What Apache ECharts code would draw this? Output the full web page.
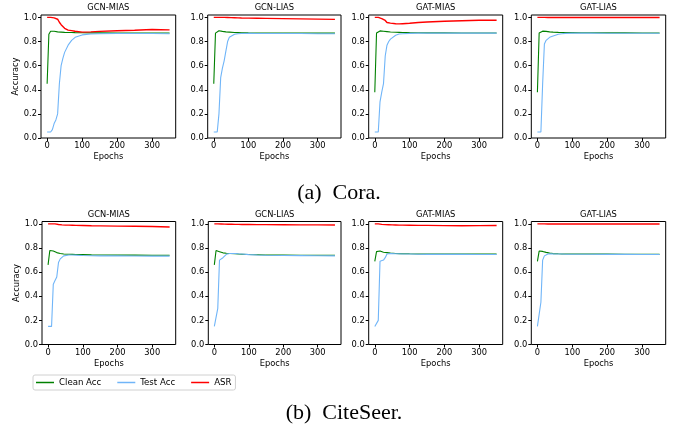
<!DOCTYPE html>
<html>
<head>
<meta charset="utf-8">
<script src="https://cdn.jsdelivr.net/npm/echarts@6/dist/echarts.min.js"></script>
<style>
  html, body { margin: 0; padding: 0; background: #fff; }
  #chart { width: 681px; height: 434px; }
</style>
</head>
<body>
<div id="chart"></div>
<script>
// epochs sampled from the curves
var epochs = [0, 5, 10, 15, 20, 25, 30, 35, 40, 45, 50, 60, 70, 80, 100, 125, 150, 200, 250, 300, 350];

// (a) Cora
var coraGcnMiasClean = [0.45, 0.86, 0.885, 0.89, 0.885, 0.882, 0.88, 0.878, 0.878, 0.877, 0.876, 0.875, 0.875, 0.874, 0.873, 0.872, 0.872, 0.871, 0.871, 0.871, 0.871];
var coraGcnMiasTest  = [0.05, 0.05, 0.05, 0.07, 0.12, 0.15, 0.2, 0.45, 0.6, 0.66, 0.71, 0.77, 0.81, 0.835, 0.855, 0.862, 0.864, 0.866, 0.866, 0.866, 0.865];
var coraGcnMiasAsr   = [1.0, 1.0, 1.0, 0.998, 0.996, 0.994, 0.985, 0.96, 0.94, 0.925, 0.91, 0.895, 0.89, 0.885, 0.878, 0.88, 0.884, 0.89, 0.893, 0.9, 0.897];

var coraGcnLiasClean = [0.45, 0.87, 0.885, 0.89, 0.887, 0.884, 0.882, 0.88, 0.879, 0.878, 0.877, 0.875, 0.874, 0.873, 0.872, 0.871, 0.871, 0.87, 0.87, 0.87, 0.87];
var coraGcnLiasTest  = [0.05, 0.05, 0.05, 0.2, 0.5, 0.58, 0.64, 0.72, 0.8, 0.835, 0.85, 0.86, 0.865, 0.867, 0.868, 0.867, 0.866, 0.866, 0.866, 0.865, 0.864];
var coraGcnLiasAsr   = [1.0, 1.0, 1.0, 1.0, 1.0, 1.0, 1.0, 1.0, 0.999, 0.999, 0.998, 0.997, 0.996, 0.995, 0.994, 0.993, 0.992, 0.99, 0.988, 0.986, 0.984];

var coraGatMiasClean = [0.38, 0.87, 0.885, 0.888, 0.886, 0.885, 0.884, 0.882, 0.88, 0.879, 0.878, 0.877, 0.876, 0.875, 0.874, 0.873, 0.872, 0.872, 0.871, 0.871, 0.871];
var coraGatMiasTest  = [0.05, 0.05, 0.05, 0.3, 0.38, 0.45, 0.68, 0.77, 0.8, 0.82, 0.835, 0.852, 0.862, 0.865, 0.868, 0.87, 0.87, 0.87, 0.87, 0.87, 0.87];
var coraGatMiasAsr   = [1.0, 1.0, 1.0, 0.995, 0.99, 0.988, 0.975, 0.958, 0.955, 0.953, 0.952, 0.948, 0.946, 0.948, 0.952, 0.958, 0.962, 0.968, 0.972, 0.976, 0.977];

var coraGatLiasClean = [0.38, 0.87, 0.882, 0.886, 0.885, 0.884, 0.882, 0.88, 0.879, 0.878, 0.877, 0.876, 0.875, 0.875, 0.874, 0.873, 0.873, 0.872, 0.872, 0.871, 0.871];
var coraGatLiasTest  = [0.05, 0.05, 0.05, 0.45, 0.78, 0.81, 0.825, 0.835, 0.84, 0.845, 0.85, 0.86, 0.865, 0.868, 0.87, 0.87, 0.87, 0.869, 0.869, 0.869, 0.869];
var coraGatLiasAsr   = [1.0, 1.0, 1.0, 1.0, 1.0, 1.0, 0.999, 0.999, 0.999, 0.999, 0.999, 0.999, 0.999, 0.999, 0.999, 0.999, 0.999, 0.999, 0.999, 0.999, 0.999];

// (b) CiteSeer
var citeGcnMiasClean = [0.66, 0.78, 0.785, 0.775, 0.768, 0.762, 0.758, 0.755, 0.753, 0.751, 0.75, 0.748, 0.747, 0.746, 0.745, 0.743, 0.742, 0.741, 0.741, 0.74, 0.74];
var citeGcnMiasTest  = [0.15, 0.15, 0.15, 0.5, 0.53, 0.56, 0.68, 0.71, 0.725, 0.735, 0.74, 0.742, 0.742, 0.741, 0.738, 0.736, 0.735, 0.735, 0.734, 0.733, 0.733];
var citeGcnMiasAsr   = [1.0, 1.0, 1.0, 1.0, 1.0, 0.998, 0.995, 0.993, 0.992, 0.991, 0.99, 0.99, 0.989, 0.988, 0.987, 0.985, 0.984, 0.982, 0.98, 0.978, 0.975];

var citeGcnLiasClean = [0.66, 0.78, 0.782, 0.77, 0.762, 0.76, 0.758, 0.757, 0.756, 0.755, 0.754, 0.752, 0.75, 0.749, 0.746, 0.744, 0.742, 0.741, 0.74, 0.74, 0.74];
var citeGcnLiasTest  = [0.15, 0.15, 0.3, 0.7, 0.715, 0.72, 0.735, 0.748, 0.752, 0.755, 0.756, 0.755, 0.752, 0.75, 0.745, 0.742, 0.74, 0.738, 0.737, 0.736, 0.735];
var citeGcnLiasAsr   = [1.0, 1.0, 1.0, 1.0, 0.999, 0.999, 0.998, 0.998, 0.997, 0.997, 0.997, 0.996, 0.996, 0.995, 0.995, 0.994, 0.994, 0.993, 0.992, 0.992, 0.991];

var citeGatMiasClean = [0.69, 0.77, 0.78, 0.775, 0.768, 0.765, 0.764, 0.762, 0.76, 0.758, 0.757, 0.755, 0.754, 0.753, 0.752, 0.751, 0.751, 0.75, 0.75, 0.75, 0.75];
var citeGatMiasTest  = [0.15, 0.15, 0.2, 0.69, 0.7, 0.7, 0.72, 0.75, 0.755, 0.755, 0.754, 0.753, 0.752, 0.751, 0.75, 0.748, 0.747, 0.747, 0.747, 0.746, 0.746];
var citeGatMiasAsr   = [1.0, 1.0, 1.0, 0.998, 0.996, 0.995, 0.994, 0.993, 0.993, 0.992, 0.992, 0.991, 0.99, 0.99, 0.989, 0.988, 0.988, 0.986, 0.985, 0.986, 0.987];

var citeGatLiasClean = [0.69, 0.775, 0.78, 0.772, 0.762, 0.764, 0.763, 0.758, 0.755, 0.754, 0.753, 0.752, 0.751, 0.751, 0.75, 0.75, 0.75, 0.75, 0.749, 0.749, 0.749];
var citeGatLiasTest  = [0.15, 0.15, 0.35, 0.7, 0.735, 0.745, 0.75, 0.752, 0.752, 0.752, 0.751, 0.75, 0.75, 0.749, 0.749, 0.748, 0.748, 0.747, 0.747, 0.746, 0.746];
var citeGatLiasAsr   = [1.0, 1.0, 1.0, 1.0, 1.0, 1.0, 0.999, 0.999, 0.999, 0.999, 0.999, 0.999, 0.999, 0.999, 0.999, 0.999, 0.999, 0.999, 0.999, 0.999, 0.999];

var panelTitles = ["GCN-MIAS", "GCN-LIAS", "GAT-MIAS", "GAT-LIAS"];
var seriesNames = ["Clean Acc", "Test Acc", "ASR"];
var xTicks = [0, 100, 200, 300];
var yTicks = [0, 0.2, 0.4, 0.6, 0.8, 1.0];
var captions = ["(a)\u2002Cora.", "(b)\u2002CiteSeer."];

var panels = [
  [coraGcnMiasClean, coraGcnMiasTest, coraGcnMiasAsr],
  [coraGcnLiasClean, coraGcnLiasTest, coraGcnLiasAsr],
  [coraGatMiasClean, coraGatMiasTest, coraGatMiasAsr],
  [coraGatLiasClean, coraGatLiasTest, coraGatLiasAsr],
  [citeGcnMiasClean, citeGcnMiasTest, citeGcnMiasAsr],
  [citeGcnLiasClean, citeGcnLiasTest, citeGcnLiasAsr],
  [citeGatMiasClean, citeGatMiasTest, citeGatMiasAsr],
  [citeGatLiasClean, citeGatLiasTest, citeGatLiasAsr]
];

// layout (pixels)
var colors = ["#008000", "#70b5f8", "#ff0000"];
var rowTop = [15, 221.5];
var rowH = 123;
var colLeft = [[41, 207.7, 368.7, 531.3], [42, 208.3, 368.7, 531.3]];
var colW = [[134.7, 133.3, 134, 134.4], [133.7, 132.7, 134, 134.4]];
var font = "DejaVu Sans";

var grids = [], xAxes = [], yAxes = [], series = [], graphics = [];

for (var p = 0; p < panels.length; p++) {
  var r = Math.floor(p / 4), c = p % 4;
  var left = colLeft[r][c], w = colW[r][c];
  grids.push({
    left: left, top: rowTop[r], width: w, height: rowH,
    show: true, borderColor: "#000", borderWidth: 1, backgroundColor: "transparent"
  });
  xAxes.push({
    gridIndex: p, type: "value", min: -17.5, max: 367.5,
    name: "Epochs", nameLocation: "middle", nameGap: 15,
    nameTextStyle: { fontFamily: font, fontSize: 8.3, color: "#000" },
    axisLine: { show: false, onZero: false },
    axisTick: { show: true, length: 3, customValues: xTicks, lineStyle: { color: "#000" } },
    axisLabel: { customValues: xTicks, margin: 4, fontFamily: font, fontSize: 8.3, color: "#000" },
    splitLine: { show: false }
  });
  yAxes.push({
    gridIndex: p, type: "value", min: 0, max: 1.02,
    name: c === 0 ? "Accuracy" : "", nameLocation: "middle", nameGap: 16,
    nameTextStyle: { fontFamily: font, fontSize: 8.3, color: "#000" },
    axisLine: { show: false, onZero: false },
    axisTick: { show: true, length: 3, customValues: yTicks, lineStyle: { color: "#000" } },
    axisLabel: { customValues: yTicks, margin: 4, fontFamily: font, fontSize: 8.3, color: "#000",
      formatter: function (v) { return v.toFixed(1); } },
    splitLine: { show: false }
  });
  for (var s = 0; s < 3; s++) {
    var pts = [];
    for (var i = 0; i < epochs.length; i++) pts.push([epochs[i], panels[p][s][i]]);
    series.push({
      name: seriesNames[s], type: "line", xAxisIndex: p, yAxisIndex: p,
      data: pts, symbol: "none", smooth: false,
      lineStyle: { color: colors[s], width: s === 2 ? 1.4 : 1.1 },
      itemStyle: { color: colors[s] }
    });
  }
  graphics.push({
    type: "text", x: left + w / 2, y: rowTop[r] - 7,
    style: { text: panelTitles[c], fontFamily: font, fontSize: 8.3, fill: "#000",
      textAlign: "center", textVerticalAlign: "middle" }
  });
}

graphics.push({
  type: "text", x: 339, y: 193,
  style: { text: captions[0], fontFamily: "Liberation Serif", fontSize: 22, fill: "#000",
    textAlign: "center", textVerticalAlign: "middle" }
});
graphics.push({
  type: "text", x: 344, y: 413,
  style: { text: captions[1], fontFamily: "Liberation Serif", fontSize: 22, fill: "#000",
    textAlign: "center", textVerticalAlign: "middle" }
});

var myChart = echarts.init(document.getElementById("chart"));
myChart.setOption({
  animation: false,
  grid: grids,
  xAxis: xAxes,
  yAxis: yAxes,
  series: series,
  graphic: graphics,
  legend: {
    data: seriesNames,
    left: 33, top: 375,
    icon: "rect", itemWidth: 18, itemHeight: 1.5, itemGap: 16,
    padding: [3, 4, 3, 3],
    borderColor: "#d0d0d0", borderWidth: 1, borderRadius: 2,
    textStyle: { fontFamily: font, fontSize: 8.6, color: "#000" }
  }
});
</script>
</body>
</html>
